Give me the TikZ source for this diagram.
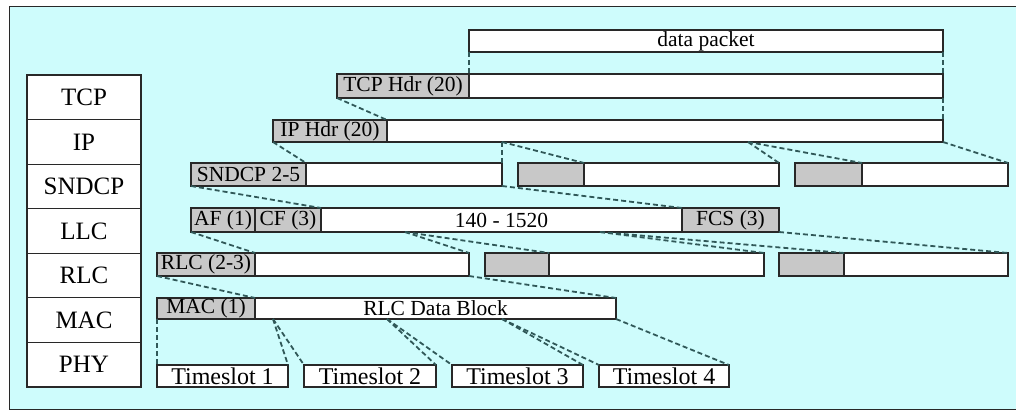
\documentclass[tikz,border=0pt]{standalone}
\usepackage{fontspec}
\setmainfont{Liberation Serif}
\definecolor{bgc}{RGB}{206,252,252}
\definecolor{hdr}{RGB}{200,200,200}
\definecolor{dsh}{RGB}{48,88,88}
\definecolor{edge}{RGB}{40,40,40}
\tikzset{
  seg/.style={draw=edge, line width=1.1pt, inner sep=0pt, outer sep=0pt, font=\fontsize{21.5}{21.5}\selectfont, text=black},
  wseg/.style={seg, fill=white},
  gseg/.style={seg, fill=hdr},
  slot/.style={wseg, font=\fontsize{24}{24}\selectfont},
  layer/.style={draw=edge, line width=1.1pt, fill=white, inner sep=0pt, outer sep=0pt, minimum width=114pt, minimum height=44.57pt, font=\fontsize{25}{25}\selectfont},
  link/.style={draw=dsh, line width=1.8pt, dash pattern=on 5pt off 3pt},
}
\newcommand\seg[7]{\node[#6, minimum width={#3pt-#2pt}, minimum height={#5pt-#4pt}] (#1) at ({(#2+#3)/2},{(#4+#5)/2}) {#7};}
\begin{document}
\begin{tikzpicture}[x=1pt,y=-1pt]
\useasboundingbox (0,0) rectangle (1016,411);
\fill[white] (0,0) rectangle (1016,411);
\draw[draw=edge, fill=bgc, line width=1pt] (9,7) rectangle (1024,409);

% layer table
\node[layer] (lTCP) at (84,97.3) {TCP};
\node[layer, anchor=north] (lIP) at (lTCP.south) {IP};
\node[layer, anchor=north] (lSN) at (lIP.south) {SNDCP};
\node[layer, anchor=north] (lLLC) at (lSN.south) {LLC};
\node[layer, anchor=north] (lRLC) at (lLLC.south) {RLC};
\node[layer, anchor=north] (lMAC) at (lRLC.south) {MAC};
\node[layer, anchor=north] (lPHY) at (lMAC.south) {PHY};

% data packet
\seg{dp}{469}{943}{30}{52}{wseg}{data packet}
% TCP
\seg{tcph}{337}{469}{74}{98}{gseg}{TCP Hdr (20)}
\seg{tcpd}{469}{943}{74}{98}{wseg}{}
% IP
\seg{iph}{273}{387}{120}{142}{gseg}{IP Hdr (20)}
\seg{ipd}{387}{943}{120}{142}{wseg}{}
% SNDCP
\seg{snah}{191}{306}{163}{186}{gseg}{SNDCP 2-5}
\seg{snad}{306}{502}{163}{186}{wseg}{}
\seg{snbh}{518}{584}{163}{186}{gseg}{}
\seg{snbd}{584}{779}{163}{186}{wseg}{}
\seg{snch}{795}{862}{163}{186}{gseg}{}
\seg{sncd}{862}{1008}{163}{186}{wseg}{}
% LLC
\seg{af}{191}{255}{208}{232}{gseg}{AF (1)}
\seg{cf}{255}{321}{208}{232}{gseg}{CF (3)}
\seg{llcd}{321}{682}{208}{232}{wseg}{140 - 1520}
\seg{fcs}{682}{779}{208}{232}{gseg}{FCS (3)}
% RLC
\seg{rah}{157}{255}{253}{276}{gseg}{RLC (2-3)}
\seg{rad}{255}{469}{253}{276}{wseg}{}
\seg{rbh}{485}{549}{253}{276}{gseg}{}
\seg{rbd}{549}{764}{253}{276}{wseg}{}
\seg{rch}{779}{844}{253}{276}{gseg}{}
\seg{rcd}{844}{1008}{253}{276}{wseg}{}
% MAC
\seg{mach}{157}{255}{298}{319}{gseg}{MAC (1)}
\seg{macd}{255}{616}{298}{319}{wseg}{RLC Data Block}
% PHY
\seg{ts1}{157}{288}{365}{387}{slot}{Timeslot 1}
\seg{ts2}{304}{436}{365}{387}{slot}{Timeslot 2}
\seg{ts3}{452}{583}{365}{387}{slot}{Timeslot 3}
\seg{ts4}{599}{729}{365}{387}{slot}{Timeslot 4}

% split points
\coordinate (ips1) at (502,142);
\coordinate (ips2) at (748,142);
\coordinate (llcs1) at (405,232);
\coordinate (llcs2) at (600,232);
\coordinate (macs1) at (273,319);
\coordinate (macs2) at (387,319);
\coordinate (macs3) at (502,319);

% connectors
\draw[link] (dp.south west) -- (tcpd.north west);
\draw[link] (dp.south east) -- (tcpd.north east);
\draw[link] (tcph.south west) -- (iph.north east);
\draw[link] (tcpd.south east) -- (ipd.north east);
\draw[link] (iph.south west) -- (snah.north east);
\draw[link] (ips1) -- (snad.north east);
\draw[link] (ips1) -- (snbh.north east);
\draw[link] (ips2) -- (snbd.north east);
\draw[link] (ips2) -- (snch.north east);
\draw[link] (ipd.south east) -- (sncd.north east);
\draw[link] (snah.south west) -- (cf.north east);
\draw[link] (snad.south east) -- (fcs.north west);
\draw[link] (af.south west) -- (rah.north east);
\draw[link] (llcs1) -- (rad.north east);
\draw[link] (llcs1) -- (rbh.north east);
\draw[link] (llcs2) -- (rbd.north east);
\draw[link] (llcs2) -- (rch.north east);
\draw[link] (fcs.south east) -- (rcd.north east);
\draw[link] (rah.south west) -- (mach.north east);
\draw[link] (rad.south east) -- (macd.north east);
\draw[link] (mach.south west) -- (ts1.north west);
\draw[link] (macs1) -- (ts1.north east);
\draw[link] (macs1) -- (ts2.north west);
\draw[link] (macs2) -- (ts2.north east);
\draw[link] (macs2) -- (ts3.north west);
\draw[link] (macs3) -- (ts3.north east);
\draw[link] (macs3) -- (ts4.north west);
\draw[link] (macd.south east) -- (ts4.north east);
\end{tikzpicture}
\end{document}
